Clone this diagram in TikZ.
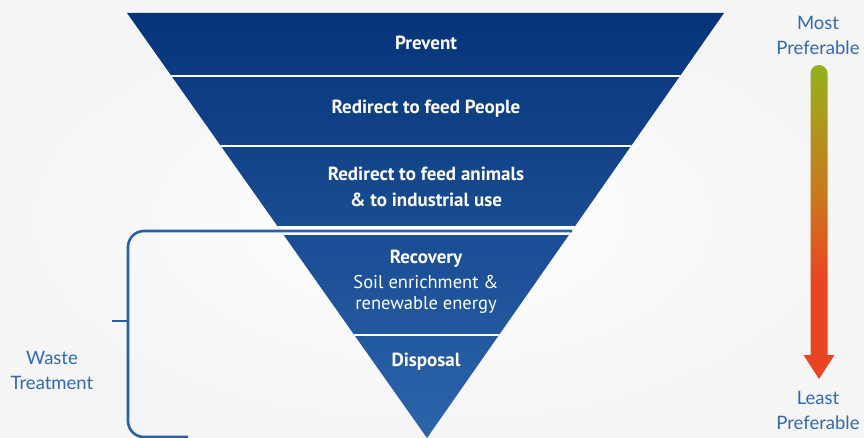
\documentclass[tikz,border=0pt]{standalone}
\usepackage{fontspec}
\setmainfont{PT Sans}
\newfontfamily\sidefont{Lato}
\usetikzlibrary{positioning,arrows.meta}
\definecolor{bandtop}{RGB}{6,52,122}
\definecolor{bandbot}{RGB}{44,100,170}
\definecolor{sideblue}{RGB}{48,104,178}
\definecolor{brackblue}{RGB}{40,96,168}
\definecolor{arrgreen}{RGB}{148,178,28}
\definecolor{arrorange}{RGB}{206,116,30}
\definecolor{arrred}{RGB}{232,70,34}
\pgfdeclareverticalshading{prefshade}{100bp}{color(0bp)=(arrred); color(41bp)=(arrred); color(53bp)=(arrorange); color(75bp)=(arrgreen); color(100bp)=(arrgreen)}
\tikzset{
  band/.style={text=white,align=center,font=\fontsize{19}{26}\selectfont\bfseries,inner sep=0pt},
  bandsub/.style={text=white,align=center,font=\fontsize{18.5}{21}\selectfont,inner sep=0pt},
  side/.style={text=sideblue,align=center,font=\sidefont\fontsize{18.5}{25}\selectfont,inner sep=0pt},
  gap/.style={white,line width=2pt},
}
\begin{document}
\begin{tikzpicture}[x=1pt,y=-1pt]
  \useasboundingbox (0,0) rectangle (864,438);
  % soft background
  \shade[inner color=white,outer color=black!4] (0,0) rectangle (864,438);
  % inverted pyramid
  \begin{scope}
    \clip (127,13) -- (724,13) -- (427,438) -- cycle;
    \shade[top color=bandtop,bottom color=bandbot] (127,13) rectangle (724,438);
    \draw[gap] (120,76) -- (730,76);
    \draw[gap] (120,146) -- (730,146);
    \draw[white,line width=9pt] (120,231) -- (730,231);
    \draw[gap] (120,335) -- (730,335);
  \end{scope}
  % band labels
  \node[band] (prevent) at (426,43) {Prevent};
  \node[band] (people) at (426,109) {Redirect to feed People};
  \node[band] (animals) at (426,187) {Redirect to feed animals\\ \& to industrial use};
  \node[band] (recovery) at (426,259) {Recovery};
  \node[bandsub] (soil) at (426,294) {Soil enrichment \&\\ renewable energy};
  \node[band] (disposal) at (426,362) {Disposal};
  % waste treatment bracket
  \coordinate (btop) at (572,231);
  \coordinate (bbot) at (188,437);
  \coordinate (btick) at (112,321);
  \draw[brackblue,line width=2.6pt,rounded corners=16pt] (btop) -- (128,231) -- (128,437) -- (bbot);
  \draw[brackblue,line width=2.6pt] (btick) -- (128,321);
  \node[side] (waste) at (52,370) {Waste\\ Treatment};
  % preference arrow
  \shade[shading=prefshade] (810.5,355) -- (810.5,73.5) arc (180:360:8.5) -- (827.5,355) -- (834.5,355) -- (819,379) -- (803.5,355) -- cycle;
  \node[side] (most) at (818,35) {Most\\ Preferable};
  \node[side] (least) at (818,410) {Least\\ Preferable};
\end{tikzpicture}
\end{document}
